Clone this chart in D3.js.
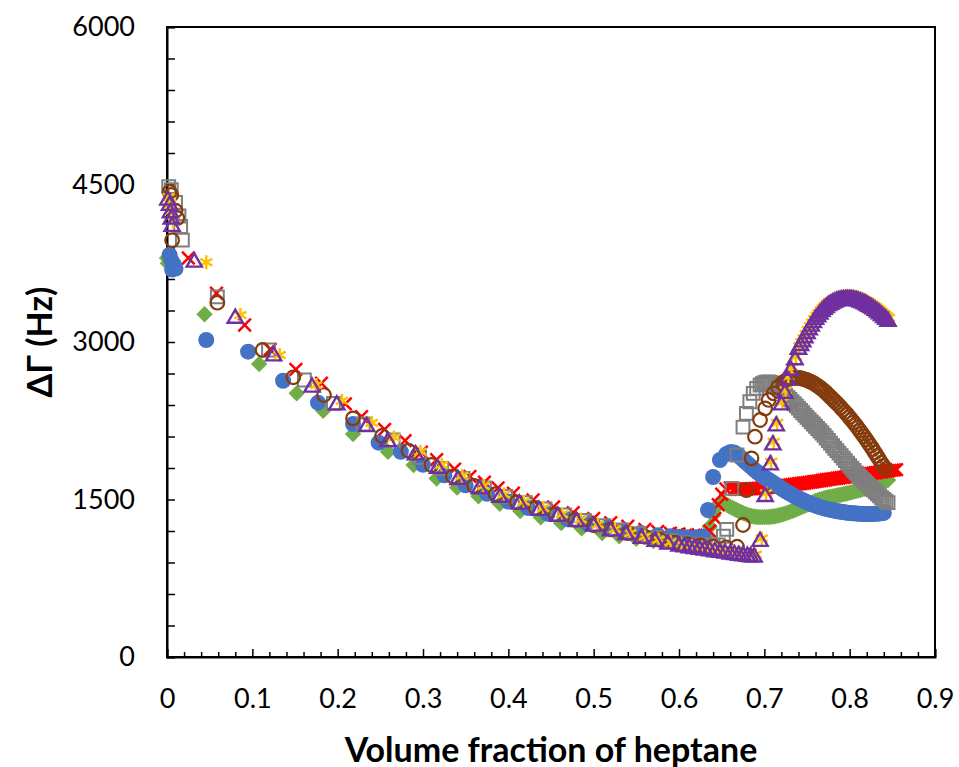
<!DOCTYPE html>
<html lang="en">
<head>
    <meta charset="UTF-8">
    <title>Volume fraction of heptane</title>
    <script src="https://d3js.org/d3.v7.min.js"></script>
    <style>
        body{ margin: 0; background: #fff; }
        svg{ display: block; }
        .tick text{ font-family: Lato, "Liberation Sans", sans-serif; font-size: 27px; fill: #000; }
        .title{ font-family: Lato, "Liberation Sans", sans-serif; font-weight: bold; fill: #000; }
    </style>
</head>
<body>
<script>

    // axis ticks
    const xTicks = [0, 0.1, 0.2, 0.3, 0.4, 0.5, 0.6, 0.7, 0.8, 0.9]
    const xTickLabels = ["0", "0.1", "0.2", "0.3", "0.4", "0.5", "0.6", "0.7", "0.8", "0.9"]
    const yTicks = [0, 1500, 3000, 4500, 6000]
    const yTickLabels = ["0", "1500", "3000", "4500", "6000"]

    // series, [volume fraction, delta gamma Hz]
    const blueSeries = [[0.003,3830],[0.005,3780],[0.006,3690],[0.008,3740],[0.010,3700],[0.046,3019],[0.095,2908],[0.136,2631],[0.177,2422],[0.218,2219],[0.248,2041],[0.274,1955],[0.300,1830],[0.325,1730],[0.350,1635],[0.375,1555],[0.400,1480],[0.423,1420],[0.446,1365],[0.469,1315],[0.492,1275],[0.515,1235],[0.535,1205],[0.555,1180],[0.575,1160],[0.590,1150],[0.600,1145],[0.610,1140],[0.620,1140],[0.628,1145],[0.634,1400],[0.640,1714],[0.648,1876],[0.655,1930],[0.660,1950],
        [0.6625,1950],[0.665,1945],[0.6675,1932],[0.670,1915],[0.6725,1898],[0.675,1880],[0.6775,1862],[0.680,1845],[0.6825,1826],[0.685,1808],[0.6875,1790],[0.690,1772],[0.6925,1756],[0.695,1740],[0.6975,1726],[0.700,1712],[0.7025,1699],[0.705,1686],[0.7075,1673],[0.710,1660],[0.7125,1646],[0.715,1633],[0.7175,1620],[0.720,1606],[0.7225,1593],[0.725,1580],[0.7275,1568],[0.730,1556],[0.7325,1544],[0.735,1533],[0.7375,1522],[0.740,1512],[0.7425,1502],[0.745,1492],[0.7475,1483],[0.750,1474],[0.7525,1465],[0.755,1457],[0.7575,1449],[0.760,1442],[0.7625,1435],[0.765,1428],[0.7675,1422],[0.770,1416],[0.7725,1411],[0.775,1406],[0.7775,1402],[0.780,1398],[0.7825,1394],[0.785,1390],[0.7875,1386],[0.790,1383],[0.7925,1380],[0.795,1377],[0.7975,1374],[0.800,1372],[0.8025,1370],[0.805,1368],[0.8075,1366],[0.810,1365],[0.8125,1364],[0.815,1363],[0.8175,1362],[0.820,1362],[0.8225,1362],[0.825,1362],[0.8275,1363],[0.830,1364],[0.8325,1365],[0.835,1367],[0.8375,1369],[0.840,1372]]

    const greenSeries = [[0.000,3800],[0.001,3750],[0.044,3264],[0.108,2790],[0.152,2511],[0.183,2346],[0.218,2124],[0.259,1955],[0.289,1829],[0.316,1700],[0.340,1615],[0.365,1530],[0.390,1460],[0.414,1390],[0.438,1330],[0.462,1275],[0.486,1225],[0.510,1180],[0.530,1150],[0.550,1125],[0.570,1105],[0.590,1095],[0.605,1090],[0.615,1090],[0.625,1100],[0.632,1150],[0.636,1241],[0.640,1350],[0.644,1430],[0.648,1470],[0.652,1465],[0.656,1450],
        [0.658,1440],[0.660,1430],[0.6625,1420],[0.665,1410],[0.6675,1400],[0.670,1390],[0.6725,1381],[0.675,1372],[0.6775,1363],[0.680,1355],[0.6825,1348],[0.685,1342],[0.6875,1338],[0.690,1335],[0.6925,1333],[0.695,1332],[0.6975,1332],[0.700,1332],[0.7025,1333],[0.705,1334],[0.7075,1336],[0.710,1338],[0.7125,1341],[0.715,1345],[0.7175,1350],[0.720,1355],[0.7225,1361],[0.725,1368],[0.7275,1375],[0.730,1382],[0.7325,1390],[0.735,1398],[0.7375,1406],[0.740,1415],[0.7425,1423],[0.745,1432],[0.7475,1441],[0.750,1450],[0.7525,1459],[0.755,1468],[0.7575,1476],[0.760,1485],[0.7625,1493],[0.765,1500],[0.7675,1506],[0.770,1512],[0.7725,1517],[0.775,1522],[0.7775,1526],[0.780,1530],[0.7825,1534],[0.785,1538],[0.7875,1542],[0.790,1546],[0.7925,1550],[0.795,1555],[0.7975,1560],[0.800,1565],[0.8025,1570],[0.805,1575],[0.8075,1580],[0.810,1585],[0.8125,1591],[0.815,1597],[0.8175,1603],[0.820,1610],[0.8225,1617],[0.825,1625],[0.8275,1632],[0.830,1640],[0.8325,1647],[0.835,1655],[0.8375,1662],[0.840,1670],[0.8425,1677],[0.845,1685]]

    const redSeries = [[0.025,3800],[0.058,3464],[0.091,3162],[0.121,2930],[0.151,2740],[0.181,2607],[0.209,2410],[0.228,2289],[0.255,2168],[0.279,2060],[0.298,1950],[0.316,1880],[0.337,1790],[0.355,1720],[0.372,1665],[0.388,1610],[0.406,1560],[0.429,1495],[0.453,1430],[0.476,1375],[0.500,1320],[0.520,1280],[0.540,1245],[0.560,1215],[0.575,1195],[0.590,1180],[0.600,1172],[0.610,1165],[0.620,1160],[0.630,1160],[0.636,1200],[0.642,1320],[0.646,1450],[0.650,1550],[0.655,1600],[0.660,1610],[0.665,1600],
        [0.6675,1598],[0.670,1598],[0.6725,1597],[0.675,1598],[0.6775,1599],[0.680,1600],[0.6825,1601],[0.685,1602],[0.6875,1603],[0.690,1605],[0.6925,1606],[0.695,1608],[0.6975,1610],[0.700,1612],[0.7025,1614],[0.705,1616],[0.7075,1618],[0.710,1620],[0.7125,1622],[0.715,1625],[0.7175,1627],[0.720,1630],[0.7225,1632],[0.725,1635],[0.7275,1637],[0.730,1640],[0.7325,1642],[0.735,1645],[0.7375,1647],[0.740,1650],[0.7425,1652],[0.745,1655],[0.7475,1657],[0.750,1660],[0.7525,1663],[0.755,1666],[0.7575,1669],[0.760,1672],[0.7625,1675],[0.765,1678],[0.7675,1681],[0.770,1685],[0.7725,1688],[0.775,1691],[0.7775,1694],[0.780,1697],[0.7825,1699],[0.785,1702],[0.7875,1705],[0.790,1708],[0.7925,1711],[0.795,1714],[0.7975,1717],[0.800,1720],[0.8025,1722],[0.805,1725],[0.8075,1727],[0.810,1730],[0.8125,1733],[0.815,1736],[0.8175,1739],[0.820,1742],[0.8225,1745],[0.825,1748],[0.8275,1751],[0.830,1755],[0.8325,1758],[0.835,1761],[0.8375,1764],[0.840,1768],[0.8425,1771],[0.845,1774],[0.8475,1777],[0.850,1780],[0.8525,1782],[0.855,1785]]

    const graySeries = [[0.002,4480],[0.005,4450],[0.010,4330],[0.014,4200],[0.016,4100],[0.018,3970],[0.059,3430],[0.119,2924],[0.161,2638],[0.195,2416],[0.230,2219],[0.265,2067],[0.296,1900],[0.322,1795],[0.347,1700],[0.372,1610],[0.397,1530],[0.420,1470],[0.443,1410],[0.466,1352],[0.489,1300],[0.512,1250],[0.533,1210],[0.553,1175],[0.572,1140],[0.590,1110],[0.605,1090],[0.620,1075],[0.630,1068],[0.640,1065],[0.646,1068],[0.652,1150],[0.656,1215],[0.662,1606],[0.668,1924],[0.675,2190],[0.679,2320],[0.683,2431],[0.687,2511],[0.691,2559],[0.695,2590],
        [0.6975,2602],[0.700,2612],[0.7025,2618],[0.705,2620],[0.7075,2614],[0.710,2605],[0.7125,2588],[0.715,2570],[0.7175,2550],[0.720,2530],[0.7225,2511],[0.725,2492],[0.7275,2472],[0.730,2452],[0.7325,2432],[0.735,2412],[0.7375,2391],[0.740,2370],[0.7425,2348],[0.745,2326],[0.7475,2304],[0.750,2282],[0.7525,2261],[0.755,2240],[0.7575,2219],[0.760,2198],[0.7625,2176],[0.765,2155],[0.7675,2133],[0.770,2110],[0.7725,2086],[0.775,2062],[0.7775,2037],[0.780,2012],[0.7825,1988],[0.785,1965],[0.7875,1941],[0.790,1918],[0.7925,1894],[0.795,1870],[0.7975,1846],[0.800,1822],[0.8025,1799],[0.805,1776],[0.8075,1753],[0.810,1730],[0.8125,1710],[0.815,1690],[0.8175,1670],[0.820,1650],[0.8225,1630],[0.825,1610],[0.8275,1591],[0.830,1572],[0.8325,1553],[0.835,1535],[0.8375,1517],[0.840,1500],[0.8425,1485],[0.845,1470]]

    const brownSeries = [[0.003,4430],[0.005,4400],[0.006,3970],[0.010,4250],[0.012,4180],[0.059,3374],[0.112,2924],[0.148,2664],[0.184,2495],[0.218,2273],[0.252,2105],[0.283,1965],[0.310,1830],[0.335,1720],[0.360,1630],[0.385,1550],[0.410,1475],[0.432,1420],[0.455,1360],[0.478,1305],[0.500,1255],[0.520,1215],[0.540,1180],[0.560,1145],[0.578,1115],[0.595,1090],[0.610,1075],[0.625,1062],[0.640,1052],[0.655,1045],[0.668,1050],[0.675,1257],[0.679,1590],[0.685,1892],[0.689,2098],[0.695,2257],[0.701,2368],[0.705,2448],[0.711,2511],[0.716,2570],[0.722,2615],
        [0.7245,2628],[0.727,2640],[0.7295,2648],[0.732,2655],[0.7345,2658],[0.737,2660],[0.7395,2658],[0.742,2655],[0.7445,2650],[0.747,2645],[0.7495,2638],[0.752,2630],[0.7545,2620],[0.757,2610],[0.7595,2598],[0.762,2585],[0.7645,2570],[0.767,2555],[0.7695,2538],[0.772,2520],[0.7745,2500],[0.777,2480],[0.7795,2460],[0.782,2440],[0.7845,2420],[0.787,2400],[0.7895,2378],[0.792,2355],[0.7945,2333],[0.797,2310],[0.7995,2285],[0.802,2260],[0.8045,2235],[0.807,2210],[0.8095,2183],[0.812,2155],[0.8145,2128],[0.817,2100],[0.8195,2070],[0.822,2040],[0.8245,2010],[0.827,1980],[0.8295,1948],[0.832,1915],[0.8345,1883],[0.837,1850],[0.8395,1820],[0.842,1790]]

    const yellowSeries = [[0.002,4380],[0.004,4320],[0.005,4250],[0.007,4150],[0.046,3760],[0.086,3257],[0.132,2876],[0.175,2590],[0.205,2440],[0.240,2230],[0.266,2090],[0.297,1955],[0.322,1830],[0.346,1725],[0.371,1630],[0.395,1548],[0.418,1480],[0.441,1418],[0.463,1360],[0.485,1310],[0.505,1262],[0.525,1218],[0.543,1180],[0.560,1148],[0.576,1118],[0.590,1093],[0.603,1073],[0.615,1058],[0.627,1043],[0.639,1030],[0.651,1015],[0.662,1000],[0.672,990],[0.682,980],[0.690,975],[0.697,1130],[0.702,1560],[0.708,1860],[0.711,2050],[0.715,2230],[0.721,2430],[0.725,2540],[0.728,2670],[0.732,2760],[0.737,2860],[0.741,2960],
        [0.7435,3000],[0.746,3035],[0.7485,3075],[0.751,3115],[0.7535,3150],[0.756,3185],[0.7585,3218],[0.761,3250],[0.7635,3275],[0.766,3300],[0.7685,3323],[0.771,3345],[0.7735,3363],[0.776,3380],[0.7785,3393],[0.781,3405],[0.7835,3415],[0.786,3422],[0.7885,3428],[0.791,3432],[0.7935,3435],[0.796,3437],[0.7985,3437],[0.801,3436],[0.8035,3434],[0.806,3430],[0.8085,3426],[0.811,3420],[0.8135,3413],[0.816,3405],[0.8185,3395],[0.821,3385],[0.8235,3373],[0.826,3360],[0.8285,3347],[0.831,3332],[0.8335,3316],[0.836,3300],[0.8385,3283],[0.841,3265],[0.8435,3248],[0.846,3230]]

    const purpleSeries = [[0.001,4350],[0.003,4300],[0.004,4230],[0.005,4170],[0.006,4100],[0.032,3760],[0.080,3225],[0.125,2867],[0.170,2569],[0.199,2400],[0.234,2193],[0.259,2050],[0.291,1924],[0.317,1795],[0.341,1690],[0.366,1600],[0.390,1520],[0.413,1455],[0.436,1395],[0.458,1340],[0.480,1290],[0.500,1245],[0.520,1200],[0.538,1165],[0.556,1130],[0.572,1100],[0.587,1075],[0.600,1055],[0.606,1048],[0.612,1040],[0.618,1032],[0.624,1025],[0.630,1018],[0.636,1010],[0.642,1002],[0.648,995],[0.654,988],[0.660,980],[0.665,974],[0.670,968],[0.675,963],[0.680,958],[0.684,954],[0.688,950],[0.695,1100],[0.701,1527],[0.707,1829],[0.710,2019],[0.714,2200],[0.720,2400],[0.724,2510],[0.727,2640],[0.731,2730],[0.736,2830],[0.740,2930],
        [0.7425,2965],[0.745,3000],[0.7475,3040],[0.750,3080],[0.7525,3115],[0.755,3150],[0.7575,3183],[0.760,3215],[0.7625,3240],[0.765,3265],[0.7675,3288],[0.770,3310],[0.7725,3328],[0.775,3345],[0.7775,3358],[0.780,3370],[0.7825,3380],[0.785,3388],[0.7875,3394],[0.790,3398],[0.7925,3401],[0.795,3404],[0.7975,3404],[0.800,3403],[0.8025,3401],[0.805,3398],[0.8075,3393],[0.810,3388],[0.8125,3380],[0.815,3372],[0.8175,3362],[0.820,3352],[0.8225,3340],[0.825,3328],[0.8275,3314],[0.830,3300],[0.8325,3284],[0.835,3268],[0.8375,3250],[0.840,3232],[0.8425,3214],[0.845,3195]]

    const width = 959
    const height = 767
    const margin = {left: 167, right: 24, top: 27, bottom: 110}

    let svg = d3.select("body").append("svg")
                .attr("width", width)
                .attr("height", height)

    const x = d3.scaleLinear().domain([0, 0.9]).range([margin.left, width - margin.right])
    const y = d3.scaleLinear().domain([0, 6000]).range([height - margin.bottom, margin.top])

    // frame of the plot area
    svg.append("rect")
        .attr("x", x(0)).attr("y", y(6000))
        .attr("width", x(0.9) - x(0)).attr("height", y(0) - y(6000))
        .attr("fill", "none").attr("stroke", "#000").attr("stroke-width", 2)

    // minor ticks (inside)
    const xMinor = d3.range(0, 0.9001, 0.02).filter(v => Math.abs(v * 10 - Math.round(v * 10)) > 1e-6)
    const yMinor = d3.range(0, 6001, 300).filter(v => v % 1500 !== 0)

    svg.append("g")
        .attr("transform", `translate(0,${y(0)})`)
        .call(d3.axisBottom(x).tickValues(xMinor).tickSize(-5).tickFormat(""))
        .call(g => g.select(".domain").remove())
        .selectAll("line").attr("stroke-width", 1.5)

    svg.append("g")
        .attr("transform", `translate(${x(0)},0)`)
        .call(d3.axisLeft(y).tickValues(yMinor).tickSize(-8).tickFormat(""))
        .call(g => g.select(".domain").remove())
        .selectAll("line").attr("stroke-width", 1.5)

    // major ticks with labels
    let gx = svg.append("g")
        .attr("transform", `translate(0,${y(0)})`)
        .call(d3.axisBottom(x).tickValues(xTicks).tickSize(-8).tickPadding(32)
              .tickFormat((d, i) => xTickLabels[i]))
    gx.select(".domain").attr("stroke-width", 2)
    gx.selectAll("line").attr("stroke-width", 1.5)

    let gy = svg.append("g")
        .attr("transform", `translate(${x(0)},0)`)
        .call(d3.axisLeft(y).tickValues(yTicks).tickSize(-8).tickPadding(32)
              .tickFormat((d, i) => yTickLabels[i]))
    gy.select(".domain").attr("stroke-width", 2)
    gy.selectAll("line").attr("stroke-width", 1.5)

    // axis titles
    svg.append("text").attr("class", "title")
        .attr("x", (x(0) + x(0.9)) / 2).attr("y", 748)
        .attr("text-anchor", "middle").attr("dominant-baseline", "central")
        .attr("font-size", 34)
        .text("Volume fraction of heptane")

    svg.append("text").attr("class", "title")
        .attr("transform", `translate(38,${y(3000)}) rotate(-90)`)
        .attr("text-anchor", "middle").attr("dominant-baseline", "central")
        .attr("font-size", 34)
        .text("ΔΓ (Hz)")

    // markers, drawn back to front
    const series = [
        {data: greenSeries, type: d3.symbolSquare, size: 135, fill: "#70AD47", stroke: "none", sw: 0, rot: 45},
        {data: redSeries, type: d3.symbolTimes, size: 105, fill: "none", stroke: "#FF0000", sw: 2.5, rot: 0},
        {data: blueSeries, type: d3.symbolCircle, size: 201, fill: "#4472C4", stroke: "none", sw: 0, rot: 0},
        {data: graySeries, type: d3.symbolSquare, size: 165, fill: "none", stroke: "#7F7F7F", sw: 2, rot: 0},
        {data: brownSeries, type: d3.symbolCircle, size: 145, fill: "none", stroke: "#843C0C", sw: 2.2, rot: 0},
        {data: yellowSeries, type: d3.symbolAsterisk, size: 135, fill: "none", stroke: "#FFC000", sw: 2.5, rot: 0},
        {data: purpleSeries, type: d3.symbolTriangle, size: 100, fill: "none", stroke: "#7030A0", sw: 2.4, rot: 0}
    ]

    let gMarks = svg.append("g")
    series.forEach(s => {
        gMarks.append("g").selectAll("path")
            .data(s.data)
            .enter()
            .append("path")
            .attr("d", d3.symbol(s.type, s.size))
            .attr("transform", d => `translate(${x(d[0])},${y(d[1])}) rotate(${s.rot})`)
            .attr("fill", s.fill)
            .attr("stroke", s.stroke)
            .attr("stroke-width", s.sw)
    })

</script>
</body>
</html>
